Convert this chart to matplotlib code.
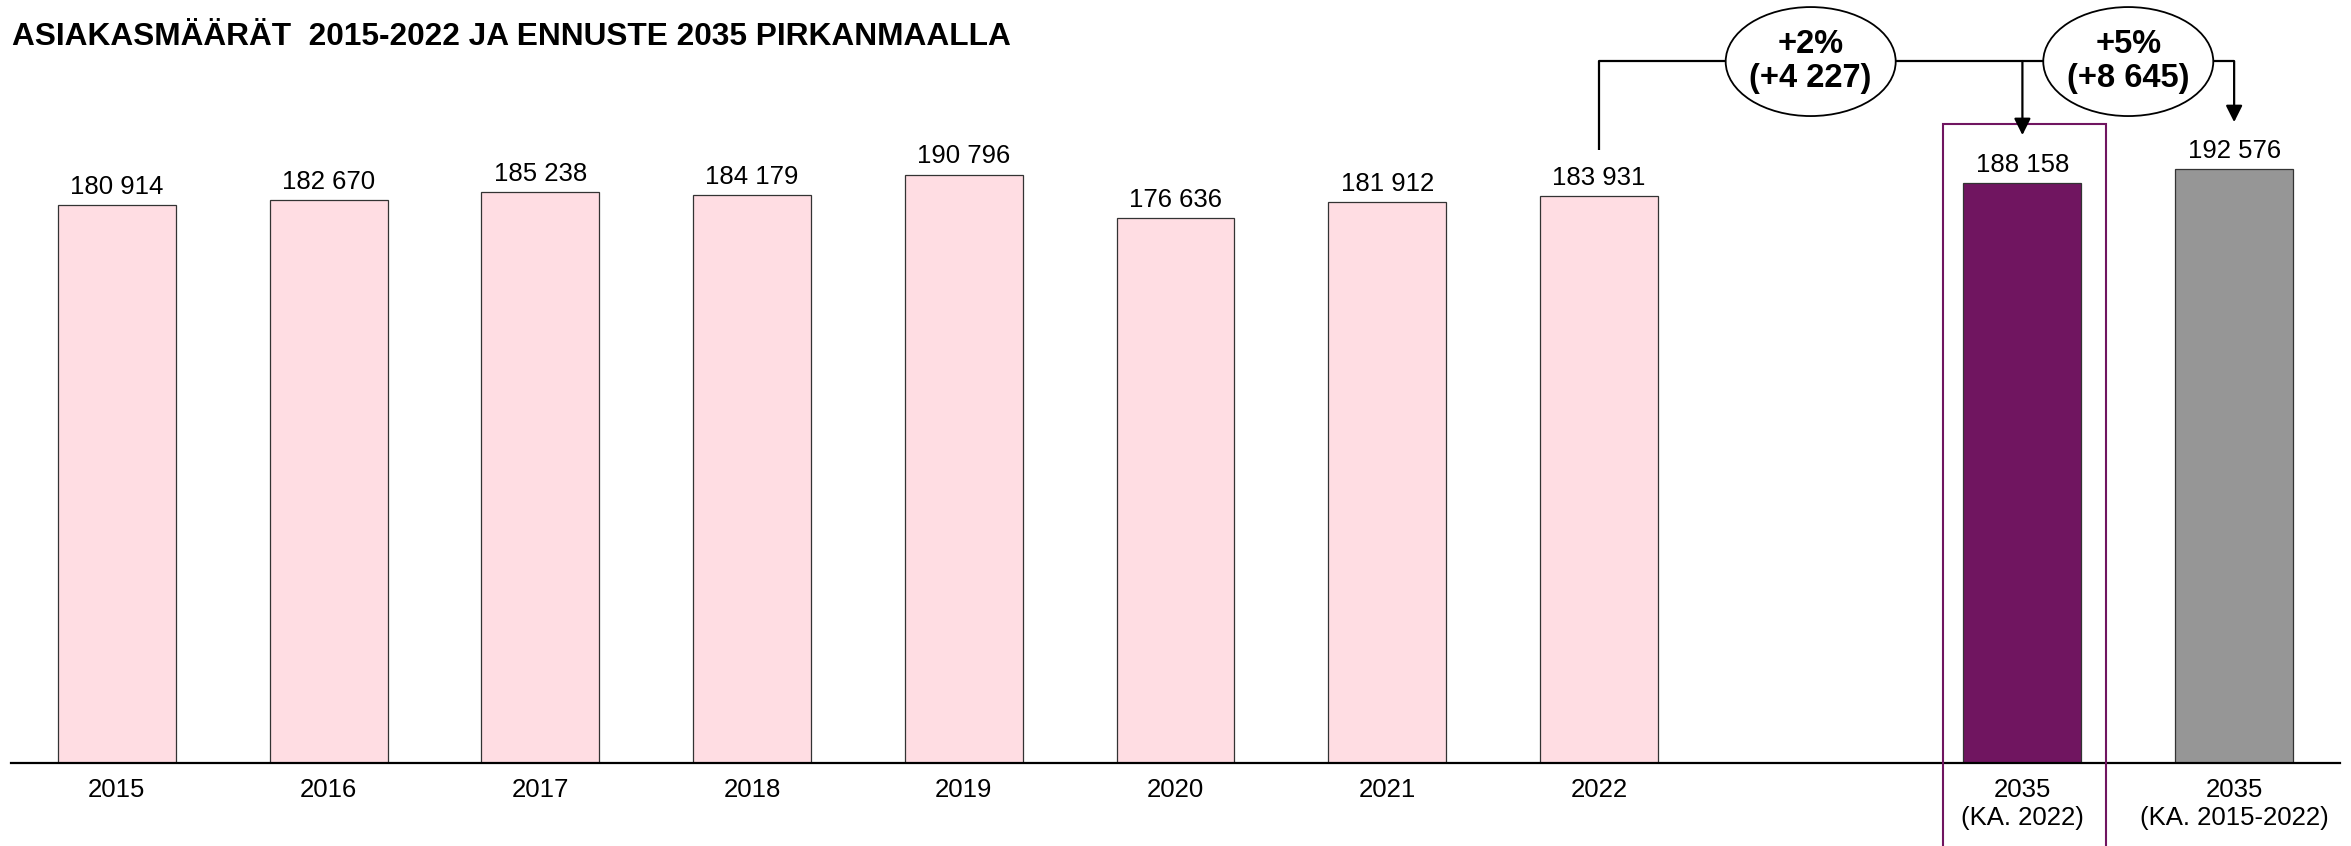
import matplotlib
matplotlib.use("Agg")
import matplotlib.pyplot as plt
from matplotlib.patches import Ellipse, Rectangle

plt.rcParams['font.family'] = ['Liberation Sans', 'DejaVu Sans']

# asiakasmäärät ja ennusteet
labels = ['2015', '2016', '2017', '2018', '2019', '2020', '2021', '2022',
          '2035\n(KA. 2022)', '2035\n(KA. 2015-2022)']
values = [180914, 182670, 185238, 184179, 190796, 176636, 181912, 183931,
          188158, 192576]
positions = [0, 1, 2, 3, 4, 5, 6, 7, 9, 10]
colors = ['#FFDDE3'] * 8 + ['#701560', '#969696']

title = 'ASIAKASMÄÄRÄT  2015-2022 JA ENNUSTE 2035 PIRKANMAALLA'


def fmt(v):
    return f"{v:,}".replace(',', ' ')


fig = plt.figure(figsize=(23.51, 8.46), dpi=100)
ax = fig.add_axes([11 / 2351, (846 - 763) / 846, 2329 / 2351, 763 / 846])

ax.bar(positions, values, width=0.557, color=colors, edgecolor='#333333',
       linewidth=0.9, zorder=2)

for x, v in zip(positions, values):
    ax.annotate(fmt(v), (x, v), xytext=(0, 8), textcoords='offset points',
                ha='center', va='baseline', fontsize=18.5)

ax.set_xlim(-0.5, 10.5)
ax.set_ylim(0, 247400)
ax.set_xticks(positions)
ax.set_xticklabels(labels, fontsize=18.5)
ax.tick_params(axis='x', length=0, pad=11)
ax.set_yticks([])
for side in ['left', 'right', 'top']:
    ax.spines[side].set_visible(False)
ax.spines['bottom'].set_linewidth(1.6)
ax.spines['bottom'].set_color('black')

# ennustepylvään kehys
ax.add_patch(Rectangle((9 - 0.373, -60000), 0.77, 60000 + 207200,
                       fill=False, edgecolor='#701560', linewidth=1.5,
                       clip_on=False, zorder=3))

# muutosnuolet vuodesta 2022
base = values[7]
line_y = 227600
ax.plot([7, 7, 10], [base + 14800, line_y, line_y], color='black', lw=1.6,
        clip_on=False, zorder=4, solid_capstyle='butt')
arrow = dict(arrowstyle='-|>', mutation_scale=25, color='black', lw=1.6,
             shrinkA=0, shrinkB=0)
ax.annotate('', xy=(9, 203600), xytext=(9, line_y), arrowprops=arrow,
            annotation_clip=False, zorder=4)
ax.annotate('', xy=(10, 207800), xytext=(10, line_y), arrowprops=arrow,
            annotation_clip=False, zorder=4)

for cx, v in [(8.0, values[8]), (9.5, values[9])]:
    diff = v - base
    ax.add_patch(Ellipse((cx, 227440), 0.803, 35340, facecolor='white',
                         edgecolor='black', linewidth=1.3, clip_on=False,
                         zorder=5))
    ax.text(cx, 227440, f"+{diff / base * 100:.0f}%\n(+{fmt(diff)})",
            ha='center', va='center', fontsize=23.5, fontweight='bold',
            linespacing=1.15, zorder=6)

fig.text(12 / 2351, 1 - 37 / 846, title, ha='left', va='center',
         fontsize=22.8, fontweight='bold')

fig.savefig('out.png', dpi=100)
